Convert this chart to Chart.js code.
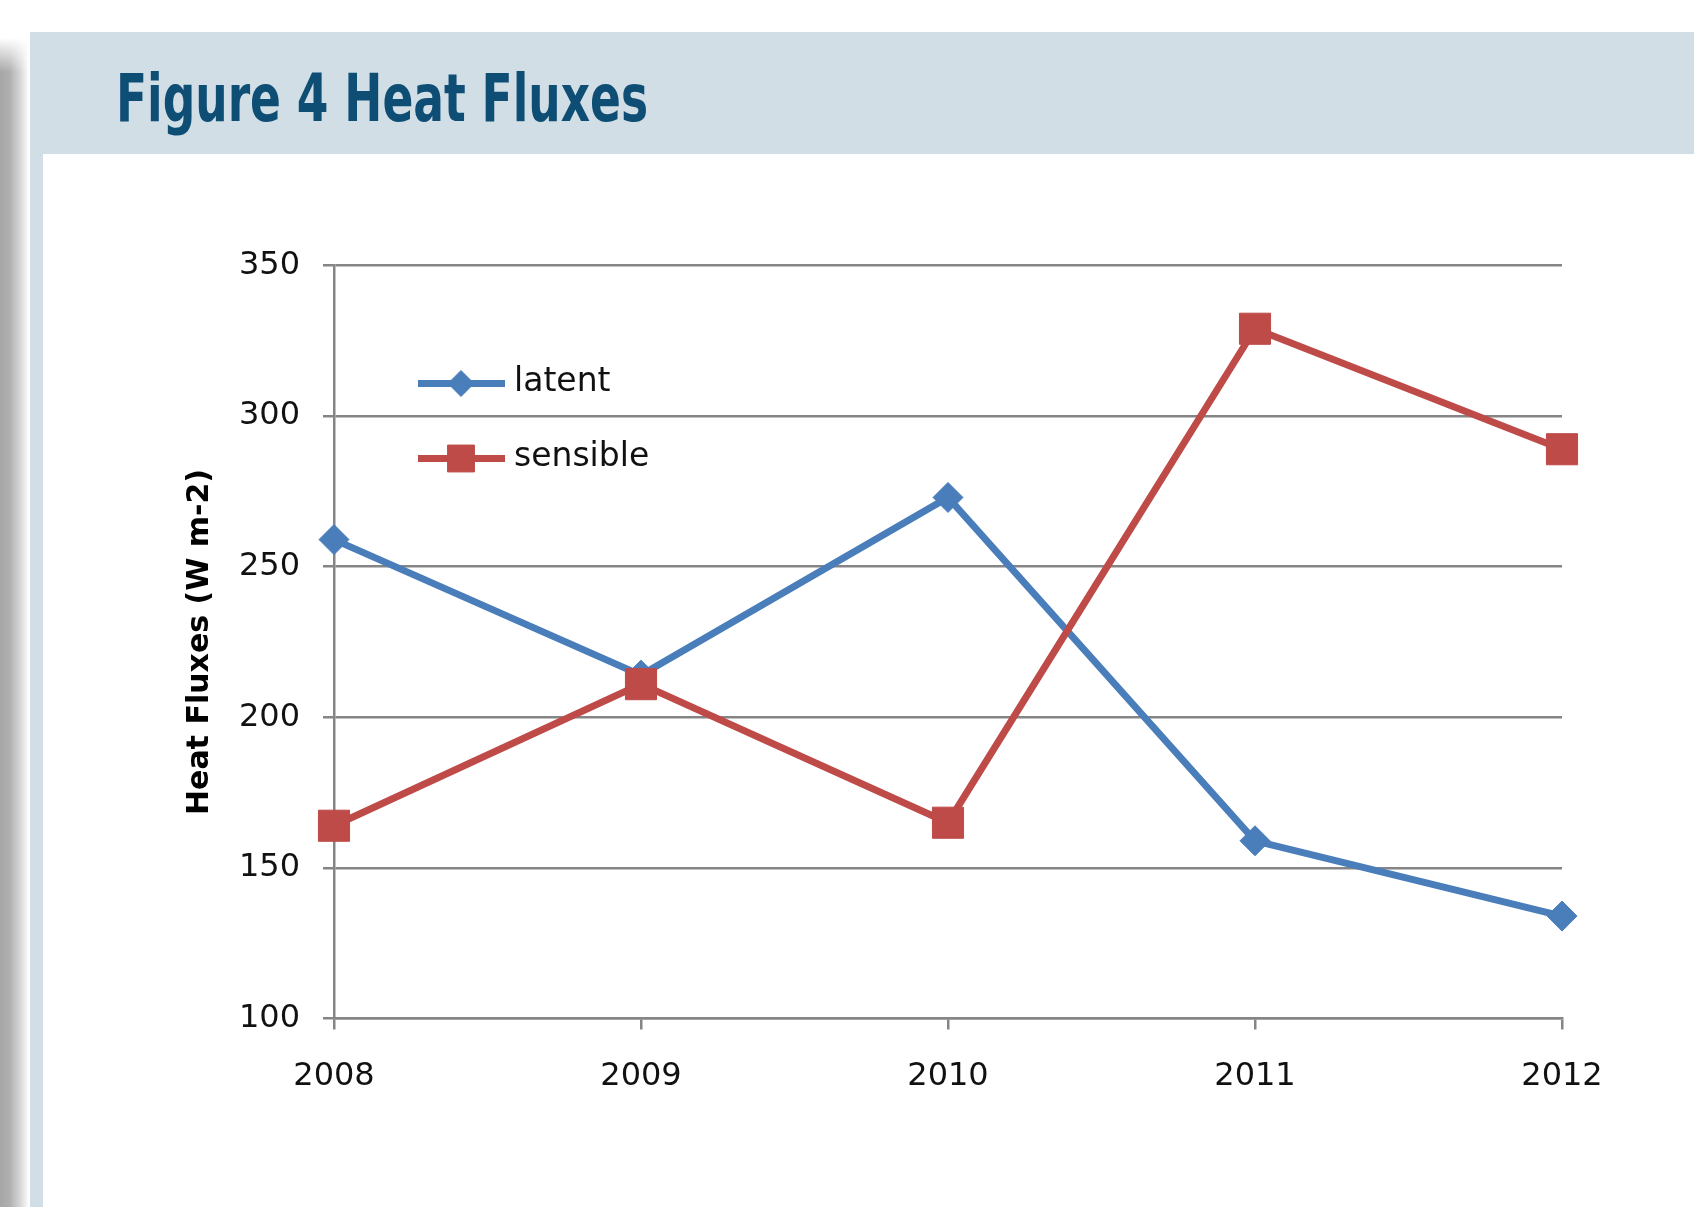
<!DOCTYPE html>
<html>
<head>
<meta charset="utf-8">
<title>Figure 4 Heat Fluxes</title>
<script src="https://cdn.jsdelivr.net/npm/chart.js@4.4.1/dist/chart.umd.min.js"></script>
<style>
  html, body { margin: 0; padding: 0; background: #fff; }
  body { width: 1694px; height: 1207px; position: relative; overflow: hidden; }
  #shadow {
    position: absolute; left: 0; top: 38px; width: 28px; height: 1169px;
    background: linear-gradient(to right, #a6a6a6 0%, #b0b0b0 35%, #dadada 75%, #fafafa 100%);
    -webkit-mask-image: linear-gradient(to bottom, transparent 0, #000 34px);
    mask-image: linear-gradient(to bottom, transparent 0, #000 34px);
  }
  #panel {
    position: absolute; left: 30px; top: 32px; right: 0; bottom: 0;
    background: #d1dee6;
  }
  #title {
    position: absolute; left: 116px; top: 66px;
    font-family: "Liberation Sans Narrow", "DejaVu Sans Condensed", Roboto, sans-serif;
    font-weight: bold; font-size: 66px; line-height: 1;
    color: #0f4e74; white-space: nowrap;
    transform-origin: 0 0;
  }
  #content {
    position: absolute; left: 43px; top: 154px; width: 1651px; height: 1053px;
    background: #fff;
  }
</style>
</head>
<body>
<div id="shadow"></div>
<div id="panel"></div>
<div id="title">Figure 4 Heat Fluxes</div>
<div id="content"><canvas id="chart"></canvas></div>

<script>
// ─── Data ─────────────────────────────────────────────────────────────────────
const years     = ["2008", "2009", "2010", "2011", "2012"];
const latent    = [259, 214, 273, 159, 134];
const sensible  = [164, 211, 165, 329, 289];
const yTicks    = [100, 150, 200, 250, 300, 350];

const BLUE  = "#4a7ebb";
const RED   = "#be4b48";
const GRID  = "#858585";
const FONT  = "'DejaVu Sans', sans-serif";

// fit the condensed header title to the reference width
(function fitTitle() {
  const t = document.getElementById("title");
  const w = t.getBoundingClientRect().width;
  if (w > 0) t.style.transform = "scaleX(" + (532 / w) + ")";
})();

// legend drawn inside the plot area, Excel style (line + marker + label)
const insideLegend = {
  id: "insideLegend",
  afterDatasetsDraw(chart) {
    const { ctx, chartArea } = chart;
    const x0 = chartArea.left + 84;
    let y = chartArea.top + 118;
    chart.data.datasets.forEach(ds => {
      ctx.save();
      ctx.strokeStyle = ds.borderColor;
      ctx.lineWidth = 7;
      ctx.beginPath();
      ctx.moveTo(x0, y);
      ctx.lineTo(x0 + 87, y);
      ctx.stroke();
      ctx.fillStyle = ds.backgroundColor;
      ctx.strokeStyle = ds.borderColor;
      ctx.lineWidth = 1;
      Chart.helpers.drawPoint(ctx, {
        pointStyle: ds.pointStyle,
        radius: ds.legendRadius,
        borderWidth: 1,
      }, x0 + 43, y);
      ctx.fillStyle = "#111";
      ctx.font = "33px " + FONT;
      ctx.textBaseline = "middle";
      ctx.textAlign = "left";
      ctx.fillText(ds.label, x0 + 96, y - 1);
      ctx.restore();
      y += 75;
    });
  }
};

new Chart(document.getElementById("chart"), {
  type: "line",
  data: {
    labels: years,
    datasets: [
      {
        label: "latent", data: latent, order: 1,
        borderColor: BLUE, backgroundColor: BLUE, borderWidth: 7,
        pointStyle: "rectRot", pointRadius: 15, pointBorderWidth: 1,
        pointBackgroundColor: BLUE, pointBorderColor: BLUE,
        legendRadius: 13, tension: 0, fill: false,
      },
      {
        label: "sensible", data: sensible, order: 0,
        borderColor: RED, backgroundColor: RED, borderWidth: 7,
        pointStyle: "rect", pointRadius: 22, pointBorderWidth: 1,
        pointBackgroundColor: RED, pointBorderColor: RED,
        legendRadius: 19, tension: 0, fill: false,
      }
    ]
  },
  options: {
    responsive: true,
    maintainAspectRatio: false,
    animation: false,
    layout: { padding: { left: 139, top: 111.5, right: 132, bottom: 0 } },
    plugins: {
      legend: { display: false },
      tooltip: { enabled: false },
    },
    scales: {
      x: {
        offset: false,
        grid: { drawOnChartArea: false, color: GRID, lineWidth: 2.5, tickLength: 11, offset: false },
        border: { color: GRID, width: 2.5 },
        ticks: { color: "#111", font: { family: FONT, size: 32 }, padding: 28, maxRotation: 0 },
        afterFit: s => { s.height = 188.5; },
      },
      y: {
        min: 100, max: 350,
        afterBuildTicks: s => { s.ticks = yTicks.map(v => ({ value: v })); },
        grid: { color: GRID, lineWidth: 2.5, tickLength: 11 },
        border: { color: GRID, width: 2.5 },
        ticks: { color: "#111", font: { family: FONT, size: 32 }, padding: 23 },
        title: {
          display: true, text: "Heat Fluxes (W m-2)", color: "#000",
          font: { family: FONT, size: 30, weight: "bold" }, padding: 0,
        },
        afterFit: s => { s.width = 152; },
      }
    }
  },
  plugins: [insideLegend]
});
</script>
</body>
</html>
